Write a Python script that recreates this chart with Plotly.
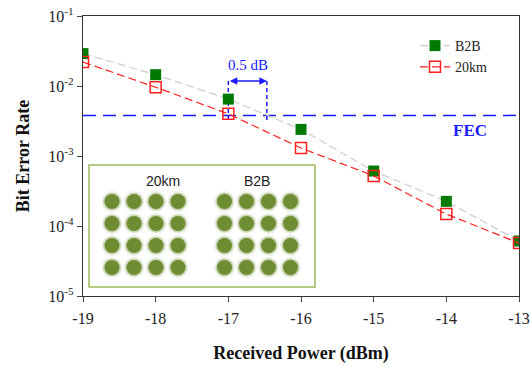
import plotly.graph_objects as go

# ---- data ----
power = [-19, -18, -17, -16, -15, -14, -13]
ber_b2b = [0.029, 0.0145, 0.0065, 0.0024, 0.00061, 0.000225, 0.000061]
ber_20km = [0.022, 0.0096, 0.0040, 0.0013, 0.00052, 0.000148, 0.000057]
fec_limit = 0.0038
penalty_x = [-17, -16.47]
penalty_label = "0.5 dB"
y_tickvals = [1e-1, 1e-2, 1e-3, 1e-4, 1e-5]
y_ticktext = ["10<sup>-1</sup>", "10<sup>-2</sup>", "10<sup>-3</sup>", "10<sup>-4</sup>", "10<sup>-5</sup>"]
x_tickvals = [-19, -18, -17, -16, -15, -14, -13]
x_ticktext = ["-19", "-18", "-17", "-16", "-15", "-14", "-13"]
# 16-QAM constellation levels (inset)
qam_levels = [-3, -1, 1, 3]
inset_labels = ["20km", "B2B"]

SERIF = "Liberation Serif"
SANS = "Liberation Sans"
DOT = "#6e8c32"

fig = go.Figure()

# FEC line
fig.add_trace(go.Scatter(x=[power[0], power[-1]], y=[fec_limit, fec_limit], mode="lines",
                         line=dict(color="#1a1aff", width=1.5, dash="13px,7px"),
                         showlegend=False, hoverinfo="skip"))
# penalty vertical lines
for px in penalty_x:
    fig.add_trace(go.Scatter(x=[px, px], y=[10 ** -1.93, 10 ** -2.49], mode="lines",
                             line=dict(color="#1a1aff", width=1.5, dash="4px,3px"),
                             showlegend=False, hoverinfo="skip"))

fig.add_trace(go.Scatter(x=power, y=ber_b2b, name="B2B", mode="lines+markers",
                         line=dict(color="#cccccc", width=1.2, dash="8px,4px"),
                         marker=dict(symbol="square", size=11, color="#007a00",
                                     line=dict(color="#007a00", width=0))))
fig.add_trace(go.Scatter(x=power, y=ber_20km, name="20km", mode="lines+markers",
                         line=dict(color="#ff2020", width=1.2, dash="8px,4px"),
                         marker=dict(symbol="square-open", size=11, color="#ff2020",
                                     line=dict(color="#ff2020", width=1.5))))

# inset constellations
gx = [i for i in qam_levels for _ in qam_levels]
gy = [q for _ in qam_levels for q in qam_levels]
for k, ax in enumerate(["2", "3"]):
    for size, op in [(21, 0.1), (18, 0.3), (15, 1.0)]:
        fig.add_trace(go.Scatter(x=gx, y=gy, xaxis="x" + ax, yaxis="y" + ax, mode="markers",
                                 marker=dict(size=size, color=DOT, opacity=op, line=dict(width=0)),
                                 showlegend=False, hoverinfo="skip"))

W, H = 530, 367
PL, PR, PT, PB = 83, 519, 16, 296   # plot box in window pixels
L, T = PL, PT
R, B = W - PR, H - PB

def fx(px):
    return (px - PL) / (PR - PL)

def fy(py):
    return (PB - py) / (PB - PT)

c1x, c2x, cy, half = 145, 257.5, 234.5, 49.5
axis_hidden = dict(visible=False, range=[-4.5, 4.5], fixedrange=True)

fig.update_layout(
    width=W, height=H,
    margin=dict(l=L, r=R, t=T, b=B, autoexpand=False),
    paper_bgcolor="white", plot_bgcolor="white",
    font=dict(family=SERIF, size=15, color="#222222"),
    showlegend=True,
    legend=dict(x=fx(415), y=fy(30), xanchor="left", yanchor="top",
                bgcolor="rgba(0,0,0,0)", font=dict(family=SERIF, size=14, color="#222222"),
                tracegroupgap=0, itemwidth=30),
    xaxis=dict(range=[-19, -13], tickvals=x_tickvals, ticktext=x_ticktext, ticks="outside", ticklen=5,
               showline=True, linecolor="#333333", linewidth=1.2, mirror=True,
               showgrid=False, zeroline=False, automargin=False, ticklabelstandoff=3,
               ticklabeloverflow="allow",
               title=dict(text="<b>Received Power (dBm)</b>", font=dict(family=SERIF, size=18, color="#111111"), standoff=20),
               tickfont=dict(family=SERIF, size=16)),
    yaxis=dict(type="log", range=[-5, -1], tickvals=y_tickvals, ticktext=y_ticktext,
               ticks="outside", ticklen=5, automargin=False, ticklabeloverflow="allow",
               showline=True, linecolor="#333333", linewidth=1.2, mirror=True,
               showgrid=False, zeroline=False,
               title=dict(text="<b>Bit Error Rate</b>", font=dict(family=SERIF, size=18, color="#111111"), standoff=14),
               tickfont=dict(family=SERIF, size=16)),
    xaxis2=dict(domain=[fx(c1x - half), fx(c1x + half)], anchor="y2", **axis_hidden),
    yaxis2=dict(domain=[fy(cy + half), fy(cy - half)], anchor="x2", **axis_hidden),
    xaxis3=dict(domain=[fx(c2x - half), fx(c2x + half)], anchor="y3", **axis_hidden),
    yaxis3=dict(domain=[fy(cy + half), fy(cy - half)], anchor="x3", **axis_hidden),
    shapes=[dict(type="rect", xref="paper", yref="paper",
                 x0=fx(89), x1=fx(315), y0=fy(287), y1=fy(165),
                 line=dict(color="#9bbb59", width=1.5), fillcolor="rgba(0,0,0,0)", layer="below")],
    annotations=[
        dict(x=penalty_x[1], y=-1.93, ax=penalty_x[0], ay=-1.93, xref="x", yref="y",
             axref="x", ayref="y", text="", showarrow=True, arrowside="end+start",
             arrowhead=2, arrowsize=1, arrowwidth=1.5, arrowcolor="#1a1aff"),
        dict(x=sum(penalty_x) / 2, y=-1.70, xref="x", yref="y", text=penalty_label,
             showarrow=False, font=dict(family=SERIF, size=15, color="#1a1aff")),
        dict(x=-13.68, y=-2.63, xref="x", yref="y", text="<b>FEC</b>", showarrow=False,
             font=dict(family=SERIF, size=17, color="#1a1aff")),
        dict(x=fx(144), y=fy(181), xref="paper", yref="paper", text=inset_labels[0], showarrow=False,
             font=dict(family=SANS, size=14, color="#222222")),
        dict(x=fx(257), y=fy(181), xref="paper", yref="paper", text=inset_labels[1], showarrow=False,
             font=dict(family=SANS, size=14, color="#222222")),
    ],
)

# remove the browser's default 8px page margin so the figure fills the window
fig.write_html("out.html", config={"displayModeBar": False},
               post_script="document.body.style.margin='0';")
